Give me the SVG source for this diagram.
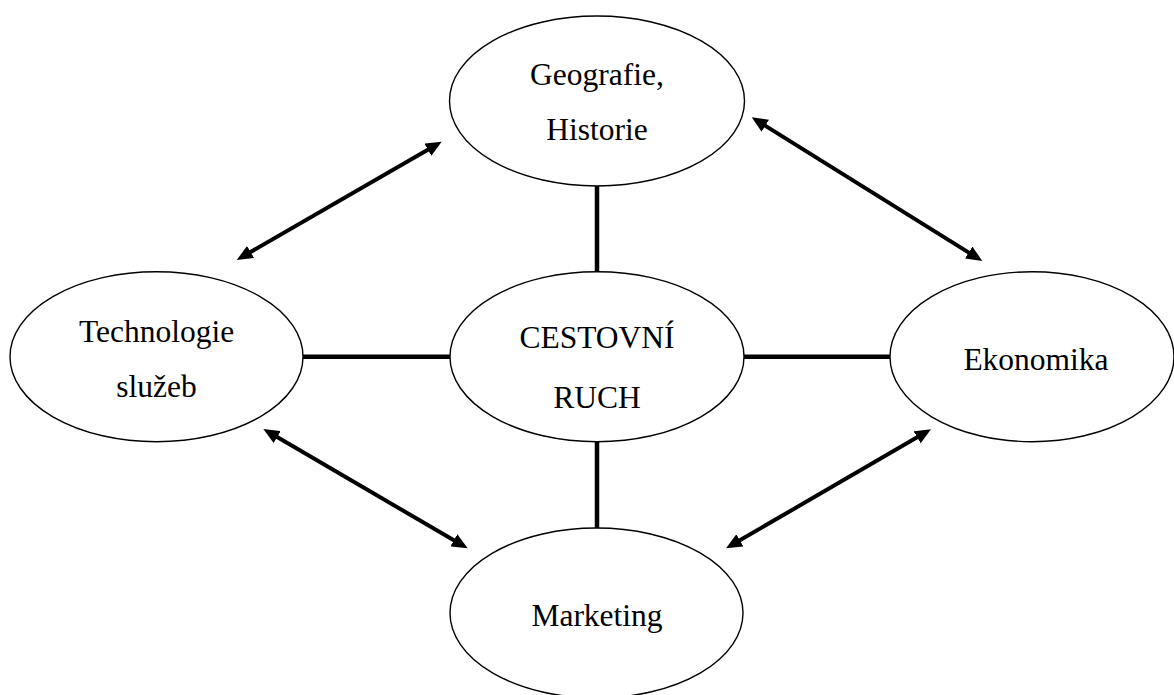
<svg xmlns="http://www.w3.org/2000/svg" width="1174" height="695" viewBox="0 0 1174 695">
<style>
.node ellipse{fill:#fff;stroke:#000;stroke-width:1.4}
.node text{font-family:"Liberation Serif","Times New Roman",serif;font-size:31.5px;fill:#000;text-anchor:middle}
.link{stroke:#000;stroke-width:4.5;fill:none}
.arrow{stroke:#000;stroke-width:4;fill:none;marker-start:url(#ah);marker-end:url(#ah)}
</style>
<defs>
<marker id="ah" viewBox="0 0 16 14" refX="4" refY="7" markerWidth="16" markerHeight="14" markerUnits="userSpaceOnUse" orient="auto-start-reverse">
<path d="M0,0 L16,7 L0,14 z" fill="#000"/>
</marker>
</defs>
<rect width="1174" height="695" fill="#fff"/>
<g id="connectors">
<line class="link" x1="597" y1="186" x2="597" y2="272"/>
<line class="link" x1="597" y1="442" x2="597" y2="528"/>
<line class="link" x1="303" y1="356.7" x2="450" y2="356.7"/>
<line class="link" x1="744" y1="356.7" x2="890" y2="356.7"/>
<line class="arrow" x1="247.1" y1="254" x2="431.3" y2="147.7"/>
<line class="arrow" x1="761.9" y1="123.6" x2="972.1" y2="254.6"/>
<line class="arrow" x1="273.7" y1="435" x2="457.3" y2="542.3"/>
<line class="arrow" x1="920.6" y1="435.3" x2="736.4" y2="542.3"/>
</g>
<g id="geografie" class="node">
<ellipse cx="597" cy="101" rx="147.5" ry="85"/>
<text x="597" y="85">Geografie,</text>
<text x="597" y="140">Historie</text>
</g>
<g id="cestovni-ruch" class="node">
<ellipse cx="597" cy="356.7" rx="147" ry="85"/>
<text x="597" y="347.7">CESTOVNÍ</text>
<text x="597" y="408.3">RUCH</text>
</g>
<g id="technologie" class="node">
<ellipse cx="156.5" cy="356.7" rx="146.5" ry="85"/>
<text x="156.5" y="341.7">Technologie</text>
<text x="156.5" y="396.7">služeb</text>
</g>
<g id="ekonomika" class="node">
<ellipse cx="1032" cy="356.7" rx="142" ry="85"/>
<text x="1036" y="370">Ekonomika</text>
</g>
<g id="marketing" class="node">
<ellipse cx="596.5" cy="613" rx="146.5" ry="85"/>
<text x="597" y="626">Marketing</text>
</g>
</svg>
